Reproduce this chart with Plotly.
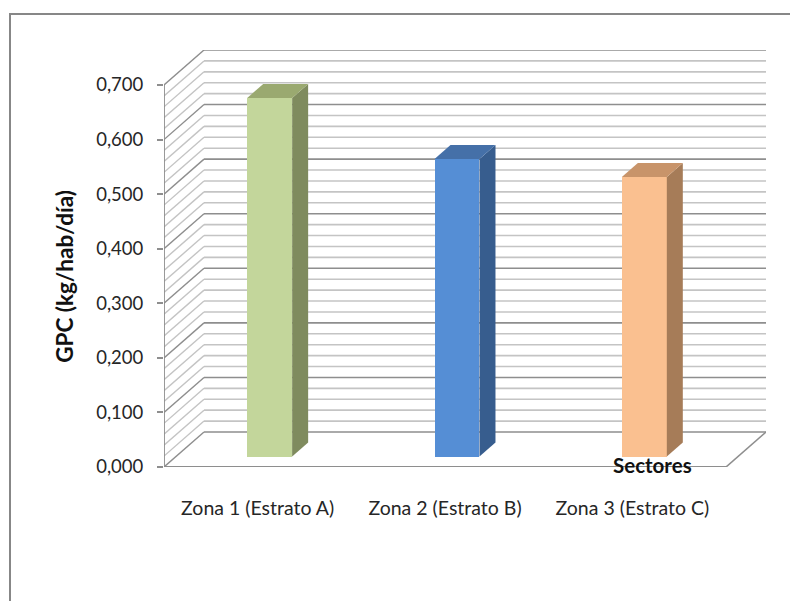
import numpy as np
import plotly.graph_objects as go

# ---- data ----
categories = ["Zona 1 (Estrato A)", "Zona 2 (Estrato B)", "Zona 3 (Estrato C)"]
gpc_values = [0.657, 0.545, 0.512]
y_ticks = [0.0, 0.1, 0.2, 0.3, 0.4, 0.5, 0.6, 0.7]
y_tick_labels = ["0,000", "0,100", "0,200", "0,300", "0,400", "0,500", "0,600", "0,700"]

front_colors = ["#C3D69B", "#558ED5", "#FAC090"]
side_colors = ["#7F8B5E", "#375D8E", "#A67C58"]
top_colors = ["#9AA970", "#4570A8", "#C8946A"]

# ---- pseudo-3D geometry (in data units) ----
DX = 40 / 187.3       # horizontal shift of the back wall
DY = 35 / 545.7       # vertical shift of the back wall
D0, D1 = 0.30, 0.70   # depth span occupied by the bars
BAR_W = 0.24
Y_MAX = 0.7
X_LO, X_HI = -0.5, len(categories) - 0.5

fig = go.Figure()

# front faces of the columns
fig.add_trace(go.Bar(
    x=[i + D0 * DX for i in range(len(categories))],
    y=gpc_values,
    base=D0 * DY,
    width=BAR_W,
    marker=dict(color=front_colors, line=dict(width=0)),
    hoverinfo="skip",
    showlegend=False,
))

# side and top faces
for i, v in enumerate(gpc_values):
    xc = i + D0 * DX
    xl, xr = xc - BAR_W / 2, xc + BAR_W / 2
    ddx, ddy = (D1 - D0) * DX, (D1 - D0) * DY
    yb, yt = D0 * DY, v + D0 * DY
    fig.add_trace(go.Scatter(
        x=[xr, xr + ddx, xr + ddx, xr, xr],
        y=[yb, yb + ddy, yt + ddy, yt, yb],
        fill="toself", fillcolor=side_colors[i], mode="lines",
        line=dict(width=0), hoverinfo="skip", showlegend=False,
    ))
    fig.add_trace(go.Scatter(
        x=[xl, xr, xr + ddx, xl + ddx, xl],
        y=[yt, yt, yt + ddy, yt + ddy, yt],
        fill="toself", fillcolor=top_colors[i], mode="lines",
        line=dict(width=0), hoverinfo="skip", showlegend=False,
    ))

shapes = []
MINOR = "#C4C4C4"
MAJOR = "#8E8E8E"

# back wall and side wall gridlines every 0.02
for k in range(0, 36):
    g = k * 0.02
    major = k % 5 == 0
    col = MAJOR if major else MINOR
    shapes.append(dict(type="line", xref="x", yref="y", layer="below",
                       x0=X_LO + DX, x1=X_HI + DX, y0=g + DY, y1=g + DY,
                       line=dict(color=col, width=1.6)))
    shapes.append(dict(type="line", xref="x", yref="y", layer="below",
                       x0=X_LO, x1=X_LO + DX, y0=g, y1=g + DY,
                       line=dict(color=col, width=1.4)))

# floor edges and vertical axis
shapes.append(dict(type="line", xref="x", yref="y", layer="below",
                   x0=X_LO, x1=X_HI, y0=0, y1=0, line=dict(color=MAJOR, width=1.8)))
shapes.append(dict(type="line", xref="x", yref="y", layer="below",
                   x0=X_HI, x1=X_HI + DX, y0=0, y1=DY, line=dict(color=MAJOR, width=1.6)))
shapes.append(dict(type="line", xref="x", yref="y", layer="below",
                   x0=X_LO, x1=X_LO, y0=0, y1=Y_MAX, line=dict(color=MAJOR, width=1.8)))

# chart frame
shapes.append(dict(type="rect", xref="paper", yref="paper",
                   xsizemode="pixel", ysizemode="pixel", xanchor=0, yanchor=1,
                   x0=-154, x1=700, y0=36, y1=-600,
                   line=dict(color="#878787", width=2), fillcolor="rgba(0,0,0,0)"))

fig.update_layout(
    width=790, height=601,
    margin=dict(l=164, r=24, t=50, b=134, autoexpand=False),
    paper_bgcolor="white", plot_bgcolor="white",
    shapes=shapes,
    bargap=0,
    font=dict(family="Lato, 'Open Sans', sans-serif", size=17, color="#262626"),
    xaxis=dict(range=[X_LO, X_HI + DX], tickvals=list(range(len(categories))),
               ticktext=categories, showgrid=False, zeroline=False, showline=False,
               ticks="", ticklabelstandoff=27, automargin=False,
               tickfont=dict(size=19.5)),
    yaxis=dict(range=[0, Y_MAX + DY], tickvals=y_ticks, ticktext=y_tick_labels,
               showgrid=False, zeroline=False, showline=False,
               ticks="outside", ticklen=6, tickwidth=1.5, tickcolor=MAJOR,
               ticklabelstandoff=10, automargin=False, tickfont=dict(size=18.5)),
    annotations=[
        dict(text="<b>Sectores</b>", xref="x", yref="y", x=2.11, y=0,
             showarrow=False, xanchor="center", yanchor="middle", yshift=2,
             font=dict(size=20.5, color="#111111")),
        dict(text="<b>GPC (kg/hab/día)</b>", xref="paper", yref="paper",
             x=0, xshift=-99, y=0.456, textangle=-90, showarrow=False,
             xanchor="center", yanchor="middle",
             font=dict(size=22.5, color="#111111")),
    ],
)

fig.write_html("out.html")
